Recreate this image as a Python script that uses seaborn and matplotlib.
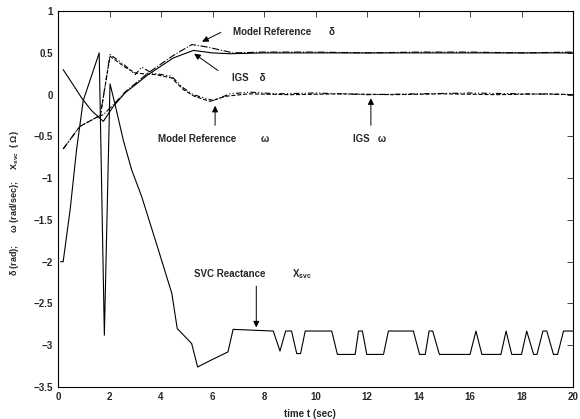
import pandas as pd
import matplotlib
matplotlib.use("Agg")
import matplotlib.pyplot as plt
import seaborn as sns

# --- data ---
# SVC reactance X_svc (ohm)
t_svc = [0.1, 0.2, 0.47, 0.72, 0.98, 1.6, 1.8, 2.02, 2.21, 2.54, 2.86, 3.25, 3.9, 4.42,
         4.63, 5.19, 5.42, 6.0, 6.6, 6.8, 8.36, 8.62, 8.84, 9.07, 9.27, 9.42, 9.6,
         10.63, 10.85, 11.54, 11.67, 11.82, 11.99, 12.64, 12.83, 13.8, 14.04, 14.26,
         14.41, 14.55, 14.81, 16.0, 16.23, 16.46, 17.2, 17.4, 17.62, 18.0, 18.2,
         18.47, 18.6, 18.83, 18.98, 19.24, 19.4, 19.63, 20.0]
x_svc = [-2.0, -2.0, -1.38, -0.66, -0.07, 0.5, -2.88, 0.13, -0.11, -0.55, -0.9, -1.22,
         -1.86, -2.38, -2.8, -2.98, -3.26, -3.17, -3.08, -2.81, -2.83, -3.07, -2.83,
         -2.83, -3.1, -3.1, -2.83, -2.83, -3.11, -3.11, -2.83, -2.83, -3.11, -3.11,
         -2.83, -2.83, -3.11, -3.11, -2.83, -2.83, -3.11, -3.11, -2.83, -3.11, -3.11,
         -2.83, -3.11, -3.11, -2.83, -3.11, -3.11, -2.83, -2.83, -3.11, -3.11, -2.83,
         -2.83]

# IGS delta (rad)
t_igs_d = [0.2, 0.5, 0.92, 1.3, 1.76, 2.15, 2.6, 3.5, 4.48, 5.26, 6.0, 6.68, 8.0, 20.0]
igs_d = [0.3, 0.16, -0.04, -0.19, -0.32, -0.14, 0.02, 0.24, 0.44, 0.53, 0.5, 0.49, 0.5, 0.5]

# Model reference delta (rad)
t_mr_d = [0.2, 0.85, 1.57, 1.76, 2.15, 2.6, 3.5, 4.48, 5.2, 5.8, 6.8, 8, 10, 12, 14, 16, 18, 20]
mr_d = [-0.65, -0.38, -0.26, -0.24, -0.12, 0.03, 0.26, 0.47, 0.6, 0.57, 0.5, 0.51, 0.51,
        0.5, 0.51, 0.51, 0.5, 0.51]

# Model reference omega (rad/sec)
t_mr_w = [0.2, 0.85, 1.57, 1.65, 2.02, 2.21, 2.6, 3.0, 3.25, 3.64, 4.41, 4.87, 5.25,
          6.03, 6.68, 7.46, 8.5, 10, 12, 14, 16, 18, 20]
mr_w = [-0.65, -0.38, -0.26, -0.24, 0.48, 0.44, 0.35, 0.24, 0.33, 0.26, 0.22, 0.08,
        0.0, -0.07, 0.01, 0.03, 0.01, 0.02, 0.0, 0.01, 0.02, 0.01, 0.0]

# IGS omega (rad/sec)
t_igs_w = [1.65, 2.02, 2.6, 3.0, 3.3, 3.8, 4.41, 4.87, 5.3, 5.9, 6.5, 7.4, 9, 11, 13,
           15, 17, 19, 20]
igs_w = [-0.24, 0.46, 0.33, 0.26, 0.25, 0.24, 0.2, 0.06, -0.02, -0.08, -0.02, 0.01,
         0.0, 0.01, 0.0, 0.01, 0.0, 0.01, 0.0]

sns.set_style("white")
plt.rcParams["font.family"] = ["Liberation Sans", "DejaVu Sans"]
plt.rcParams["font.weight"] = "bold"
plt.rcParams["mathtext.fontset"] = "custom"
plt.rcParams["mathtext.rm"] = "Liberation Sans:bold"
plt.rcParams["mathtext.it"] = "Liberation Sans:bold"

fig = plt.figure(figsize=(5.8, 4.19), dpi=100)
ax = fig.add_axes([0.1, 0.0764, 0.888, 0.897])

lw = 0.8
sns.lineplot(x=t_svc, y=x_svc, ax=ax, color="black", lw=lw, sort=False, estimator=None)
sns.lineplot(x=t_igs_d, y=igs_d, ax=ax, color="black", lw=lw, sort=False, estimator=None)
sns.lineplot(x=t_mr_d, y=mr_d, ax=ax, color="black", lw=lw, linestyle="-.",
             sort=False, estimator=None)
sns.lineplot(x=t_mr_w, y=mr_w, ax=ax, color="black", lw=lw, linestyle=(0, (5, 2, 1, 2, 1, 2)),
             sort=False, estimator=None)
sns.lineplot(x=t_igs_w, y=igs_w, ax=ax, color="black", lw=lw, linestyle="--",
             sort=False, estimator=None)

ax.set_xlim(0, 20)
ax.set_ylim(-3.5, 1)
ax.set_xticks(range(0, 21, 2))
ax.set_yticks([1, 0.5, 0, -0.5, -1, -1.5, -2, -2.5, -3, -3.5])
ax.set_yticklabels(["1", "0.5", "0", "\u22120.5", "\u22121", "\u22121.5", "\u22122",
                    "\u22122.5", "\u22123", "\u22123.5"])
ax.tick_params(direction="in", top=True, right=True, labelsize=7, length=4, width=0.6)
for s in ax.spines.values():
    s.set_linewidth(0.8)
    s.set_color("black")

ax.set_xlabel("time t (sec)", fontsize=7, fontweight="bold")
ax.xaxis.set_label_coords(0.49, -0.058)
ax.set_ylabel("\u03b4 (rad);     \u03c9 (rad/sec);     X$_{\\rm svc}$  ( \u03a9)",
              fontsize=6.5, fontweight="bold")
ax.yaxis.set_label_coords(-0.072, 0.49)

arr = dict(arrowstyle="-|>", color="black", lw=0.7, mutation_scale=9)
fs = 7
ax.annotate("", xy=(5.5, 0.62), xytext=(6.42, 0.76), arrowprops=arr)
ax.text(6.78, 0.75, "Model Reference", fontsize=fs, fontweight="bold", va="center")
ax.text(10.5, 0.75, "\u03b4", fontsize=fs, fontweight="bold", va="center")

ax.annotate("", xy=(5.2, 0.51), xytext=(6.3, 0.27), arrowprops=arr)
ax.text(6.75, 0.2, "IGS    \u03b4", fontsize=fs, fontweight="bold", va="center")

ax.annotate("", xy=(6.1, -0.1), xytext=(6.1, -0.4), arrowprops=arr)
ax.text(3.9, -0.53, "Model Reference", fontsize=fs, fontweight="bold", va="center")
ax.text(7.85, -0.53, "\u03c9", fontsize=fs, fontweight="bold", va="center")

ax.annotate("", xy=(12.15, -0.01), xytext=(12.15, -0.4), arrowprops=arr)
ax.text(11.45, -0.53, "IGS   \u03c9", fontsize=fs, fontweight="bold", va="center")

ax.annotate("", xy=(7.7, -2.82), xytext=(7.7, -2.26), arrowprops=arr)
ax.text(5.3, -2.15, "SVC Reactance", fontsize=fs, fontweight="bold", va="center")
ax.text(9.1, -2.15, "X$_{\\rm svc}$", fontsize=fs, fontweight="bold", va="center")

fig.savefig("out.png", dpi=100)
